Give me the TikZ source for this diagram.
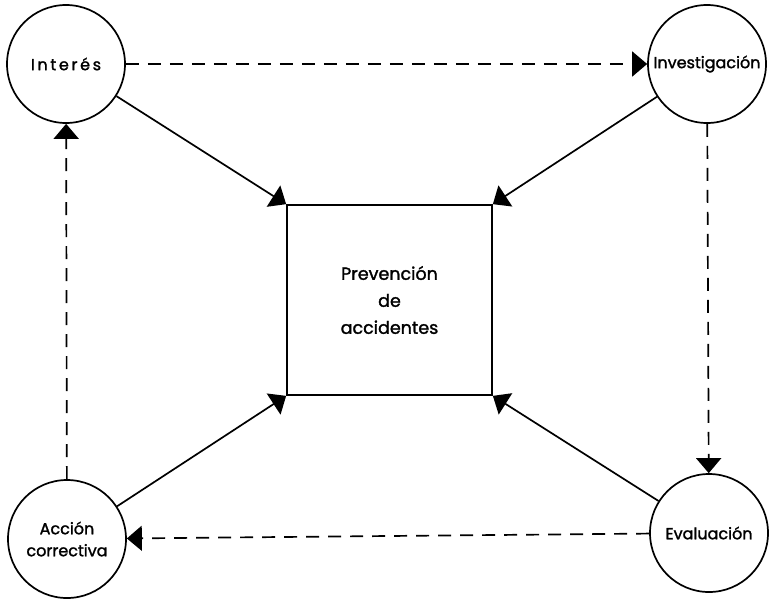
\documentclass[tikz,border=0pt]{standalone}
\usepackage{fontspec}
\setmainfont{Poppins}[FakeBold=1.6]
\usetikzlibrary{arrows.meta,positioning}

\begin{document}
\begin{tikzpicture}[x=1pt,y=-1pt,line width=1.7pt,>={Triangle[length=15pt,width=25pt]}]
  \tikzstyle{stage} = [draw,circle,minimum size=118pt,inner sep=0pt,align=center,font=\fontsize{16}{22}\selectfont]
  \tikzstyle{goal} = [draw,rectangle,minimum width=205pt,minimum height=190pt,align=center,font=\fontsize{17.5}{27}\selectfont]
  \tikzstyle{flow} = [->,dash pattern=on 13pt off 9pt]
  \useasboundingbox (0,0) rectangle (770,598);

  \node [goal] (prevencion) at (389.5,300) {Prevención\\de\\accidentes};
  \node [stage] (interes) at (66,64) {I\,n\,t\,e\,r\,é\,s};
  \node [stage] (investigacion) at (707,64) {Investigación};
  \node [stage] (evaluacion) at (709,533) {Evaluación};
  \node [stage] (accion) at (67,539) {Acción\\correctiva};

  % hacia el centro
  \draw [->] (interes) -- (prevencion.north west);
  \draw [->] (investigacion) -- (prevencion.north east);
  \draw [->] (accion) -- (prevencion.south west);
  \draw [->] (evaluacion) -- (prevencion.south east);

  % ciclo
  \draw [flow] (interes) -- (investigacion);
  \draw [flow] (investigacion) -- (evaluacion);
  \draw [flow] (evaluacion) -- (accion);
  \draw [flow] (accion) -- (interes);
\end{tikzpicture}
\end{document}
